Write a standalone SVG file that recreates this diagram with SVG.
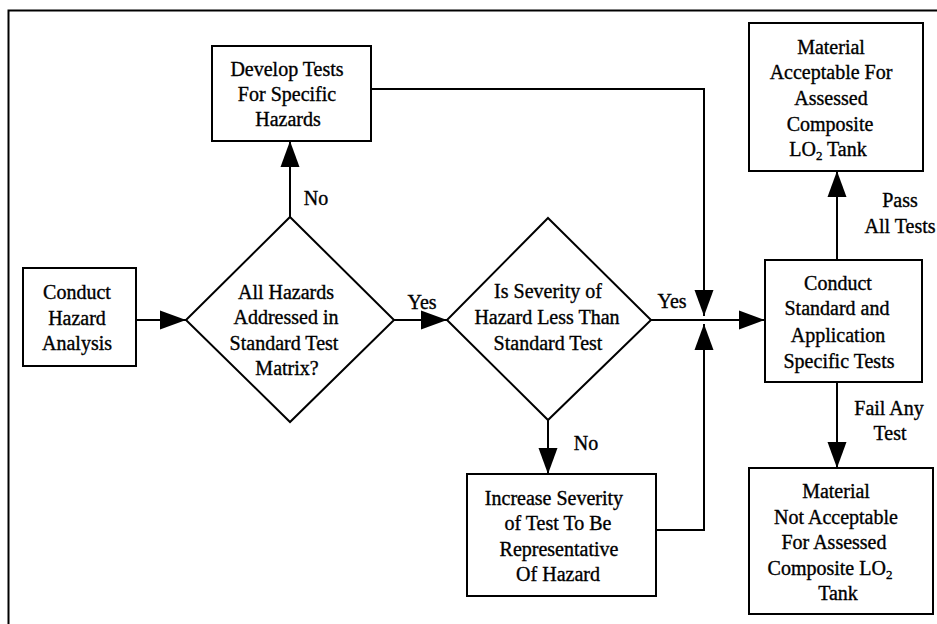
<svg xmlns="http://www.w3.org/2000/svg" width="937" height="624" viewBox="0 0 937 624">
<style>
.box{fill:#fff;stroke:#000;stroke-width:2}
.ln{fill:none;stroke:#000;stroke-width:2}
text{font-family:"Liberation Serif","Times New Roman",serif;font-size:20px;fill:#000;stroke:#000;stroke-width:0.35;text-anchor:middle}
.sub{font-size:13px}
</style>
<defs>
<marker id="ah" markerUnits="userSpaceOnUse" markerWidth="26" markerHeight="20" refX="26" refY="10" orient="auto">
<path d="M0,0.5 L26,10 L0,19.5 z" fill="#000"/>
</marker>
</defs>
<rect width="937" height="624" fill="#fff"/>
<g id="frame">
<path class="ln" d="M8.5,624 V10.5 H937"/>
</g>
<g id="connectors">
<path class="ln" d="M136,320 H186" marker-end="url(#ah)"/>
<path class="ln" d="M290,217 V141" marker-end="url(#ah)"/>
<path class="ln" d="M394,320 H447" marker-end="url(#ah)"/>
<path class="ln" d="M548,420 V474" marker-end="url(#ah)"/>
<path class="ln" d="M651,320 H765" marker-end="url(#ah)"/>
<path class="ln" d="M371,89 H704 V316" marker-end="url(#ah)"/>
<path class="ln" d="M656,530 H704 V324" marker-end="url(#ah)"/>
<path class="ln" d="M837,260 V171" marker-end="url(#ah)"/>
<path class="ln" d="M837,382 V468" marker-end="url(#ah)"/>
<text x="316" y="205">No</text>
<text x="422" y="309">Yes</text>
<text x="672" y="308">Yes</text>
<text x="586" y="450">No</text>
<text x="900" y="207">Pass</text>
<text x="900" y="233">All Tests</text>
<text x="889" y="415">Fail Any</text>
<text x="890" y="440">Test</text>
</g>
<g id="conduct-hazard">
<rect class="box" x="23" y="268" width="113" height="98"/>
<text x="77" y="299">Conduct</text>
<text x="77" y="325">Hazard</text>
<text x="77" y="350">Analysis</text>
</g>
<g id="develop-tests">
<rect class="box" x="212" y="46" width="159" height="95"/>
<text x="287" y="76">Develop Tests</text>
<text x="287" y="101">For Specific</text>
<text x="288" y="126">Hazards</text>
</g>
<g id="all-hazards">
<path class="box" d="M290,217 L394,320 L290,422 L186,320 Z"/>
<text x="286" y="299">All Hazards</text>
<text x="286" y="324">Addressed in</text>
<text x="284" y="350">Standard Test</text>
<text x="287" y="375">Matrix?</text>
</g>
<g id="severity">
<path class="box" d="M548,218 L651,320 L548,420 L447,320 Z"/>
<text x="548" y="298">Is Severity of</text>
<text x="547" y="324">Hazard Less Than</text>
<text x="548" y="350">Standard Test</text>
</g>
<g id="increase-severity">
<rect class="box" x="467" y="474" width="189" height="122"/>
<text x="554" y="505">Increase Severity</text>
<text x="558" y="530">of Test To Be</text>
<text x="559" y="556">Representative</text>
<text x="558" y="581">Of Hazard</text>
</g>
<g id="conduct-standard">
<rect class="box" x="765" y="260" width="157" height="122"/>
<text x="838" y="290">Conduct</text>
<text x="837" y="315">Standard and</text>
<text x="838" y="342">Application</text>
<text x="839" y="368">Specific Tests</text>
</g>
<g id="acceptable">
<rect class="box" x="749" y="23" width="174" height="148"/>
<text x="831" y="54">Material</text>
<text x="831" y="79">Acceptable For</text>
<text x="831" y="105">Assessed</text>
<text x="830" y="131">Composite</text>
<text x="828" y="156">LO<tspan class="sub" dy="4">2</tspan><tspan dy="-4"> Tank</tspan></text>
</g>
<g id="not-acceptable">
<rect class="box" x="749" y="468" width="184" height="146"/>
<text x="836" y="498">Material</text>
<text x="836" y="524">Not Acceptable</text>
<text x="834" y="549">For Assessed</text>
<text x="830" y="575">Composite LO<tspan class="sub" dy="4">2</tspan></text>
<text x="838" y="600">Tank</text>
</g>
</svg>
